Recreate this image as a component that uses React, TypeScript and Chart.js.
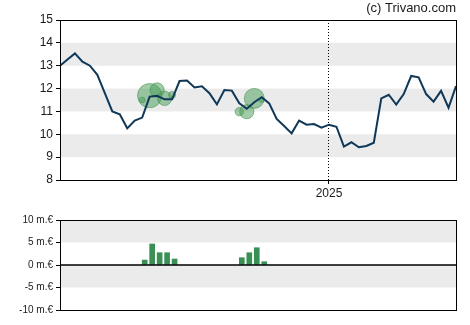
import React, { useEffect, useRef } from 'react';
import { Chart, registerables } from 'chart.js';
Chart.register(...registerables);

// ---- data ----
const priceValues = [
  13.0, 13.27, 13.54, 13.18, 13.0, 12.6, 11.8, 11.0, 10.87, 10.26,
  10.6, 10.73, 11.65, 11.68, 11.53, 11.53, 12.33, 12.35, 12.05, 12.1,
  11.8, 11.31, 11.94, 11.91, 11.36, 11.12, 11.4, 11.62, 11.35, 10.67,
  10.36, 10.04, 10.6, 10.42, 10.45, 10.29, 10.42, 10.33, 9.46, 9.65,
  9.43, 9.49, 9.63, 11.57, 11.73, 11.3, 11.76, 12.55, 12.49, 11.76,
  11.43, 11.9, 11.16, 12.11,
];
const yearTickIndex = 36;
const yearTickLabel = '2025';
const tradeWeeks = [11, 12, 13, 14, 15, 24, 25, 26, 27];
const tradePrices = [11.5, 11.69, 11.94, 11.57, 11.72, 10.99, 10.99, 11.57, 11.5];
const tradeVolumes = [1.1, 4.67, 2.73, 2.73, 1.33, 1.62, 2.73, 3.84, 0.73];
const priceMin = 8;
const priceMax = 15;
const priceBands = [[9, 10], [11, 12], [13, 14]];
const volumeMin = -10;
const volumeMax = 10;
const volumeBands = [[5, 10], [-5, 0]];
const volumeUnit = ' m.€';
const copyright = '(c) Trivano.com';

// ---- styles ----
const BAND = '#ebebeb';
const LINE = '#0f3757';
const BAR = '#3a8f55';
const TEXT = '#1a1a1a';
const FONT = "'Liberation Sans', Arial, sans-serif";
const NARROW = "'Liberation Sans Narrow', 'Arial Narrow', 'Liberation Sans', Arial, sans-serif";
const BUBBLE_SCALE = 2.6;
const BAR_SHIFT = 0.335;

const bandsPlugin = (ranges: number[][]) => ({
  id: 'bands',
  beforeDraw(chart: any) {
    const { ctx, chartArea: a, scales } = chart;
    const y = scales.y;
    ctx.save();
    ctx.fillStyle = BAND;
    ranges.forEach(([lo, hi]) => {
      const t = y.getPixelForValue(hi);
      const b = y.getPixelForValue(lo);
      ctx.fillRect(a.left, t, a.right - a.left, b - t);
    });
    ctx.restore();
  },
});

const framePlugin = (zero: boolean) => ({
  id: 'frame',
  afterDraw(chart: any) {
    const { ctx, chartArea: a, scales } = chart;
    ctx.save();
    ctx.strokeStyle = '#000';
    ctx.lineWidth = 1;
    const l = Math.round(a.left) + 0.5;
    const t = Math.round(a.top) + 0.5;
    ctx.strokeRect(l, t, Math.round(a.right - a.left), Math.round(a.bottom - a.top));
    if (zero) {
      const y0 = scales.y.getPixelForValue(0);
      ctx.lineWidth = 1.5;
      ctx.beginPath();
      ctx.moveTo(a.left, y0);
      ctx.lineTo(a.right, y0);
      ctx.stroke();
    }
    ctx.restore();
  },
});

function PriceChart() {
  const ref = useRef<HTMLCanvasElement>(null);
  useEffect(() => {
    const chart = new Chart(ref.current as HTMLCanvasElement, {
      type: 'line',
      data: {
        datasets: [
          {
            type: 'line',
            data: priceValues.map((v, i) => ({ x: i, y: v })),
            borderColor: LINE,
            borderWidth: 2,
            pointRadius: 0,
            tension: 0,
            order: 0,
          } as any,
          {
            type: 'bubble',
            data: tradeWeeks.map((w, i) => ({ x: w, y: tradePrices[i], r: Math.max(2.5, tradeVolumes[i] * BUBBLE_SCALE) })),
            backgroundColor: 'rgba(70,155,85,0.5)',
            borderColor: 'rgba(60,140,75,0.55)',
            borderWidth: 1,
            order: 1,
          } as any,
        ],
      },
      options: {
        animation: false,
        responsive: false,
        layout: { padding: { left: 0, right: 14, top: 0, bottom: 0 } },
        plugins: {
          legend: { display: false },
          tooltip: { enabled: false },
          title: {
            display: true,
            text: copyright,
            align: 'end',
            color: TEXT,
            font: { family: NARROW, size: 13, weight: 'normal' },
            padding: { top: 1, bottom: 3.4 },
          },
        },
        scales: {
          x: {
            type: 'linear',
            min: 0,
            max: priceValues.length - 1,
            afterBuildTicks: (s: any) => { s.ticks = [{ value: yearTickIndex }]; },
            afterFit: (s: any) => { s.height = 20; },
            ticks: {
              callback: () => yearTickLabel,
              color: TEXT,
              font: { family: FONT, size: 12 },
              padding: 2,
              maxRotation: 0,
            },
            grid: { color: '#000', lineWidth: 1, tickLength: 4, tickBorderDash: [] },
            border: { display: false, dash: [1, 2] },
          },
          y: {
            min: priceMin,
            max: priceMax,
            afterFit: (s: any) => { s.width = 60; },
            ticks: { stepSize: 1, color: TEXT, font: { family: FONT, size: 12 }, padding: 3 },
            grid: { drawOnChartArea: false, color: '#000', tickLength: 4 },
            border: { display: false },
          },
        },
      } as any,
      plugins: [bandsPlugin(priceBands), framePlugin(false)],
    });
    return () => chart.destroy();
  }, []);
  return <canvas ref={ref} width={470} height={200} style={{ position: 'absolute', left: 0, top: 0 }} />;
}

function VolumeChart() {
  const ref = useRef<HTMLCanvasElement>(null);
  useEffect(() => {
    const chart = new Chart(ref.current as HTMLCanvasElement, {
      type: 'bar',
      data: {
        datasets: [
          {
            data: tradeWeeks.map((w, i) => ({ x: w, y: tradeVolumes[i] })),
            backgroundColor: BAR,
            barThickness: 5,
          } as any,
        ],
      },
      options: {
        animation: false,
        responsive: false,
        layout: { padding: { left: 0, right: 14, top: 20, bottom: 15 } },
        plugins: { legend: { display: false }, tooltip: { enabled: false } },
        scales: {
          x: {
            type: 'linear',
            display: false,
            offset: false,
            grid: { offset: false },
            min: -BAR_SHIFT,
            max: priceValues.length - 1 - BAR_SHIFT,
          },
          y: {
            min: volumeMin,
            max: volumeMax,
            afterFit: (s: any) => { s.width = 60; },
            ticks: {
              stepSize: 5,
              color: TEXT,
              font: { family: FONT, size: 10 },
              padding: 3,
              callback: (v: any) => `${v}${volumeUnit}`,
            },
            grid: { drawOnChartArea: false, color: '#000', tickLength: 4 },
            border: { display: false },
          },
        },
      } as any,
      plugins: [bandsPlugin(volumeBands), framePlugin(true)],
    });
    return () => chart.destroy();
  }, []);
  return <canvas ref={ref} width={470} height={125} style={{ position: 'absolute', left: 0, top: 200 }} />;
}

export default function App() {
  return (
    <div style={{ position: 'absolute', left: 0, top: 0, width: 470, height: 325, background: '#fff' }}>
      <PriceChart />
      <VolumeChart />
    </div>
  );
}
